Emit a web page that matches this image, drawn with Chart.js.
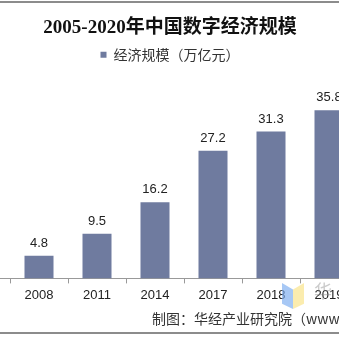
<!DOCTYPE html>
<html>
<head>
<meta charset="utf-8">
<script src="https://cdn.jsdelivr.net/npm/chart.js@4"></script>
<style>
  html, body { margin: 0; padding: 0; background: #fff; }
  body { width: 339px; height: 339px; overflow: hidden; position: relative; }
  #wrap { position: absolute; left: -80px; top: 0; width: 498px; height: 339px; }
  .rule { position: absolute; left: 0; width: 339px; height: 2px; background: #8c8c8c; }
  #src { position: absolute; left: 152px; top: 308px; font: 14px "Noto Sans CJK SC", "Liberation Sans", sans-serif; color: #333; white-space: nowrap; line-height: 20px; }
  .wm { position: absolute; }
</style>
</head>
<body>
<div id="wrap"><canvas id="c"></canvas></div>
<div class="rule" style="top:1px"></div>
<div class="rule" style="top:332px"></div>
<div class="wm" style="left:282px;top:283px;width:11px;height:26px;background:rgba(120,170,240,0.65);clip-path:polygon(0 0,100% 25%,100% 100%,0 80%);"></div>
<div class="wm" style="left:293px;top:283px;width:11px;height:26px;background:rgba(250,228,140,0.7);clip-path:polygon(0 25%,100% 0,100% 80%,0 100%);"></div>
<div class="wm" style="left:314px;top:280px;font:18px 'Noto Sans CJK SC',sans-serif;color:rgba(140,140,140,0.45);line-height:20px;">华</div>
<div id="src">制图：华经产业研究院（www.huaon.com）</div>
<script>
const categories = ['2005', '2008', '2011', '2014', '2017', '2018', '2019', '2020'];
const values = [null, 4.8, 9.5, 16.2, 27.2, 31.3, 35.8, null];
const seriesName = '经济规模（万亿元）';
const titleText = '2005-2020年中国数字经济规模';
const barColor = '#6f7b9f';

const labelPlugin = {
  id: 'valueLabels',
  afterDatasetsDraw(chart) {
    const ctx = chart.ctx;
    const meta = chart.getDatasetMeta(0);
    ctx.save();
    ctx.font = '13px "Liberation Sans", Arial, sans-serif';
    ctx.fillStyle = '#222';
    ctx.textAlign = 'center';
    ctx.textBaseline = 'bottom';
    meta.data.forEach((bar, i) => {
      const v = values[i];
      if (v === null || v === undefined) return;
      ctx.fillText(v.toFixed(1), bar.x, bar.y - 6);
    });
    ctx.restore();
  }
};

new Chart(document.getElementById('c'), {
  type: 'bar',
  data: {
    labels: categories,
    datasets: [{
      label: seriesName,
      data: values,
      backgroundColor: barColor,
      borderWidth: 0,
      categoryPercentage: 1.0,
      barPercentage: 0.5
    }]
  },
  options: {
    responsive: true,
    maintainAspectRatio: false,
    animation: false,
    layout: { padding: { left: 4, right: 2, top: 0, bottom: 32 } },
    plugins: {
      title: {
        display: true,
        text: titleText,
        color: '#111',
        font: { family: '"Liberation Serif", "Noto Sans CJK SC", serif', size: 19, weight: 'bold' },
        padding: { top: 17, bottom: 2 }
      },
      legend: {
        display: true,
        labels: {
          color: '#333',
          font: { family: '"Noto Sans CJK SC", sans-serif', size: 14 },
          boxWidth: 6, boxHeight: 6,
          padding: 6,
          useBorderRadius: false
        }
      },
      tooltip: { enabled: false }
    },
    scales: {
      x: {
        offset: true,
        grid: { display: true, drawOnChartArea: false, drawTicks: true, tickLength: 5, color: '#999', offset: true },
        border: { display: true, color: '#999' },
        ticks: { color: '#222', font: { family: '"Liberation Sans", Arial, sans-serif', size: 13 }, padding: 4 }
      },
      y: {
        display: true,
        min: 0,
        max: 44,
        grid: { display: false },
        border: { display: false },
        ticks: { display: false },
        afterFit(axis) { axis.width = 28; }
      }
    }
  },
  plugins: [labelPlugin]
});
</script>
</body>
</html>
